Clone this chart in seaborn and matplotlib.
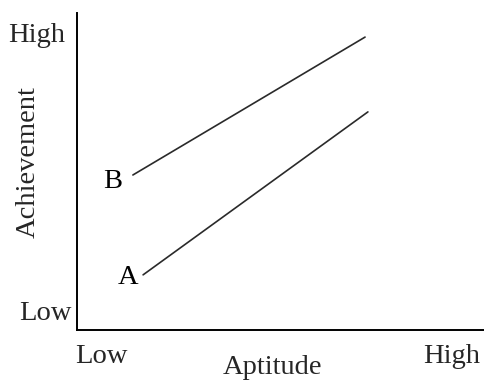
import matplotlib
matplotlib.use("Agg")
import matplotlib.pyplot as plt
import matplotlib.transforms as mtransforms
import seaborn as sns
import pandas as pd

# lines (axes run 0..10 both ways)
groups = ["B", "B", "A", "A"]
aptitude = [1.37, 7.06, 1.62, 7.13]
achievement = [4.89, 9.24, 1.74, 6.88]

x_tick_pos = [0.61, 9.19]
x_tick_labels = ["Low", "High"]
y_tick_pos = [0.63, 9.37]
y_tick_labels = ["Low", "High"]

df = pd.DataFrame({"group": groups, "aptitude": aptitude, "achievement": achievement})

sns.set_style("white")
plt.rcParams["font.family"] = ["Liberation Serif", "DejaVu Serif"]

fig = plt.figure(figsize=(4.85, 3.81), dpi=100)
ax = fig.add_axes([77 / 485, 51 / 381, 408 / 485, 317 / 381])

sns.lineplot(data=df, x="aptitude", y="achievement", hue="group",
             palette=["#2a2a2a", "#2a2a2a"], linewidth=1.2, legend=False, ax=ax)

# letter labels next to the start of each line
offsets = {"B": (-20, -7), "A": (-15, -3)}
for g, sub in df.groupby("group"):
    x0 = sub["aptitude"].iloc[0]
    y0 = sub["achievement"].iloc[0]
    ax.annotate(g, (x0, y0), xytext=offsets[g], textcoords="offset pixels",
                ha="center", va="center", fontsize=20.5, color="black")

ax.set_xlim(0, 10)
ax.set_ylim(0, 10)
ax.set_xticks(x_tick_pos)
ax.set_xticklabels(x_tick_labels, fontsize=20.5)
ax.set_yticks(y_tick_pos)
ax.set_yticklabels(y_tick_labels, fontsize=20.5)
ax.tick_params(axis="both", length=0)
ax.tick_params(axis="x", pad=10)
ax.tick_params(axis="y", pad=4)

# nudge the top y label a bit left like the original
hi = ax.get_yticklabels()[1]
hi.set_transform(hi.get_transform() + mtransforms.ScaledTranslation(-6 / 100, 0, fig.dpi_scale_trans))

ax.set_xlabel("Aptitude", fontsize=20.5)
ax.set_ylabel("Achievement", fontsize=20.5)
ax.xaxis.set_label_coords(0.48, -0.08)
ax.yaxis.set_label_coords(-0.09, 0.53)

for side in ["top", "right"]:
    ax.spines[side].set_visible(False)
for side in ["left", "bottom"]:
    ax.spines[side].set_color("black")
    ax.spines[side].set_linewidth(1.4)

fig.savefig("out.png", dpi=100)
